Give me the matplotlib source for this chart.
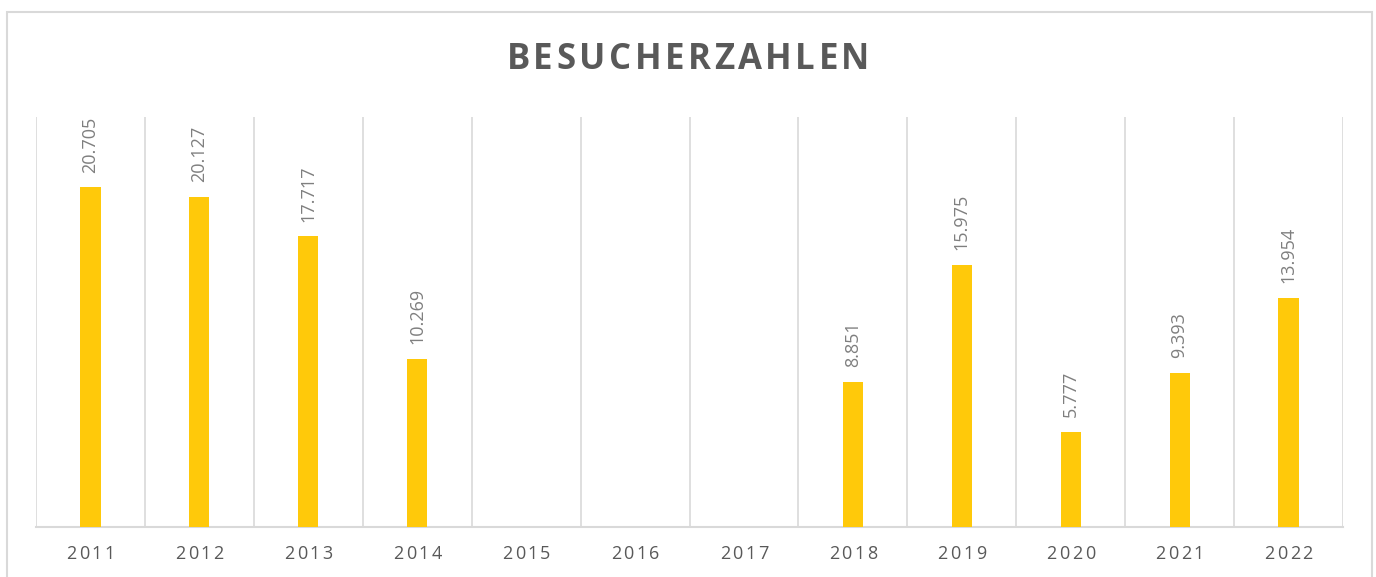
import matplotlib.pyplot as plt
from matplotlib.patches import Rectangle
from matplotlib.font_manager import FontProperties
import numpy as np

years = ['2011', '2012', '2013', '2014', '2015', '2016', '2017', '2018', '2019', '2020', '2021', '2022']
visitors = [20705, 20127, 17717, 10269, None, None, None, 8851, 15975, 5777, 9393, 13954]
title = 'BESUCHERZAHLEN'

W, H = 1376, 577
plt.rcParams['font.family'] = ['Open Sans', 'DejaVu Sans']
fig = plt.figure(figsize=(W / 100, H / 100), dpi=100)
fig.patch.set_facecolor('white')
rend = fig.canvas.get_renderer()


def spaced_text(s, xc, yc, gap, size, weight='normal', color='#595959'):
    # Excel draws these with letter spacing, so place char by char (pixel coords)
    fp = FontProperties(family=['Open Sans', 'DejaVu Sans'], size=size, weight=weight)
    width = lambda t: rend.get_text_width_height_descent(t, fp, ismath=False)[0] if t else 0
    total = width(s) + gap * (len(s) - 1)
    x0 = xc - total / 2
    for i, c in enumerate(s):
        fig.text((x0 + width(s[:i]) + gap * i) / W, 1 - yc / H, c, ha='left', va='center',
                 fontproperties=fp, color=color)


# chart frame
fig.patches.append(Rectangle((7 / W, -0.05), (1372 - 7) / W, 1.05 - 12 / H,
                             transform=fig.transFigure, fill=False,
                             edgecolor='#D9D9D9', linewidth=1.5))

ax_l, ax_r, ax_t, ax_b = 36, 1343, 117, 527
ax = fig.add_axes([ax_l / W, (H - ax_b) / H, (ax_r - ax_l) / W, (ax_b - ax_t) / H])
x = np.arange(len(years))
for i, v in enumerate(visitors):
    if v is None:
        continue
    ax.bar(x[i], v, width=0.185, color='#FFC90A', zorder=3)
    ax.text(x[i], v + 900, f'{v / 1000:.3f}', rotation=90, ha='center', va='bottom',
            fontsize=13, color='#7F7F7F')

ax.set_xlim(-0.5, len(years) - 0.5)
ax.set_ylim(0, 25000)
for b in np.arange(-0.5, len(years), 1.0):
    ax.axvline(b, color='#D9D9D9', linewidth=1.2, zorder=1)
ax.set_yticks([])
ax.set_xticks([])
for s in ['top', 'left', 'right']:
    ax.spines[s].set_visible(False)
ax.spines['bottom'].set_color('#D9D9D9')
ax.spines['bottom'].set_linewidth(1.5)

step = (ax_r - ax_l) / len(years)
for i, y in enumerate(years):
    spaced_text(y, ax_l + (i + 0.5) * step, 554, 2.5, 13)

spaced_text(title, 688, 60, 3.5, 25, weight='bold')

fig.savefig('out.png', dpi=100)
